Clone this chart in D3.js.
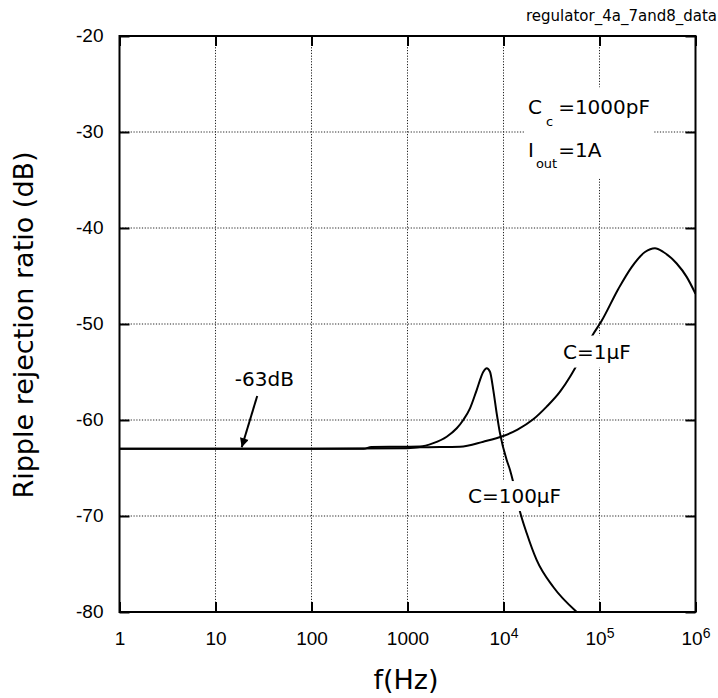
<!DOCTYPE html>
<html>
<head>
<meta charset="utf-8">
<script src="https://d3js.org/d3.v7.min.js"></script>
<style>
  body { margin: 0; background: #fff; }
  svg { font-family: "DejaVu Sans", sans-serif; }
  .grid line { stroke: #222; stroke-width: 1; stroke-dasharray: 1.2,1.6; }
  .axis path { display: none; }
  .axis line { stroke: #000; stroke-width: 2; }
  .axis text { font-size: 19px; fill: #000; }
  .curve { fill: none; stroke: #000; stroke-width: 2; }
</style>
</head>
<body>
<script>
(function(){

//frequency (Hz) and ripple rejection (dB)
var freq100uF = [1, 10, 100, 350, 420, 1000, 1349, 1857, 2560, 3258, 3811, 4478, 5256, 6166, 6683, 7229, 7831, 8492, 9197, 10790, 11695, 12647, 14859, 17458, 22182, 33037, 57943];
var db100uF   = [-63, -63, -63, -63, -62.8, -62.78, -62.76, -62.41, -61.74, -60.86, -60, -58.78, -56.88, -54.97, -54.62, -54.97, -56.88, -59.3, -61.39, -64.17, -65.2, -66.5, -69.55, -71.8, -74.6, -77.4, -80];

var freq1uF = [1, 10, 100, 1000, 1349, 3524, 6166, 9954, 14000, 20420, 28180, 38810, 49320, 55580, 86100, 105400, 157000, 216300, 297800, 378400, 462400, 636800, 809100, 1000000];
var db1uF   = [-63, -63, -63, -62.95, -62.85, -62.78, -62.26, -61.67, -61.0, -59.93, -58.61, -57.05, -55.49, -54.6, -51.04, -49.66, -46.35, -44.07, -42.5, -42.1, -42.5, -43.7, -45.09, -46.85];

//axis ticks and labels
var xTicks = [1, 10, 100, 1000, 1e4, 1e5, 1e6];
var xTickBase = ["1", "10", "100", "1000", "10", "10", "10"];
var xTickExp = ["", "", "", "", "4", "5", "6"];
var yTicks = [-20, -30, -40, -50, -60, -70, -80];

var chartTitle = "regulator_4a_7and8_data";

//chart frame dimensions
var width = 718,
    height = 698,
    margin = {left: 119.5, top: 36, right: 22.5, bottom: 86},
    innerWidth = width - margin.left - margin.right,
    innerHeight = height - margin.top - margin.bottom;

var svg = d3.select("body")
    .append("svg")
    .attr("width", width)
    .attr("height", height);

var x = d3.scaleLog()
    .domain([1, 1e6])
    .range([0, innerWidth]);

var y = d3.scaleLinear()
    .domain([-80, -20])
    .range([innerHeight, 0]);

var g = svg.append("g")
    .attr("transform", "translate(" + margin.left + "," + margin.top + ")");

//dotted grid
var grid = g.append("g").attr("class", "grid");
grid.selectAll(".vgrid")
    .data(xTicks)
    .enter()
    .append("line")
    .attr("x1", function(d){ return x(d); })
    .attr("x2", function(d){ return x(d); })
    .attr("y1", 0)
    .attr("y2", innerHeight);
grid.selectAll(".hgrid")
    .data(yTicks)
    .enter()
    .append("line")
    .attr("x1", 0)
    .attr("x2", innerWidth)
    .attr("y1", function(d){ return y(d); })
    .attr("y2", function(d){ return y(d); });

//curves
var line = d3.line()
    .x(function(d){ return x(d[0]); })
    .y(function(d){ return y(d[1]); })
    .curve(d3.curveMonotoneX);

g.append("clipPath")
    .attr("id", "plotClip")
    .append("rect")
    .attr("width", innerWidth)
    .attr("height", innerHeight);

var curves = g.append("g").attr("clip-path", "url(#plotClip)");
curves.append("path")
    .attr("class", "curve")
    .attr("d", line(d3.zip(freq1uF, db1uF)));
curves.append("path")
    .attr("class", "curve")
    .attr("d", line(d3.zip(freq100uF, db100uF)));

//annotation with a white box behind it
function boxedLabel(parent, fx, fdb, pad){
    var grp = parent.append("g");
    var bg = grp.append("rect").attr("fill", "#fff");
    var t = grp.append("text")
        .attr("x", x(fx))
        .attr("y", y(fdb))
        .attr("font-size", 20);
    return {text: t, fit: function(){
        var b = t.node().getBBox();
        bg.attr("x", b.x - pad)
          .attr("y", b.y - pad)
          .attr("width", b.width + pad * 2)
          .attr("height", b.height + pad * 2);
    }};
}

var lab1 = boxedLabel(g, 41700, -53.6, 4);
lab1.text.text("C=1\u03bcF");
lab1.fit();

var lab100 = boxedLabel(g, 4266, -68.65, 3);
lab100.text.text("C=100\u03bcF");
lab100.fit();

var lab63 = boxedLabel(g, 15.9, -56.46, 2);
lab63.text.text("-63dB");
lab63.fit();

//arrow to the -63 dB level
svg.append("defs").append("marker")
    .attr("id", "arrowHead")
    .attr("viewBox", "0 0 10 10")
    .attr("refX", 10)
    .attr("refY", 5)
    .attr("markerWidth", 5.5)
    .attr("markerHeight", 4.5)
    .attr("markerUnits", "strokeWidth")
    .attr("orient", "auto")
    .append("path")
    .attr("d", "M0,0 L10,5 L0,10 Z")
    .attr("fill", "#000");

g.append("line")
    .attr("x1", x(27.2))
    .attr("y1", y(-57.5))
    .attr("x2", x(18.75))
    .attr("y2", y(-62.84))
    .attr("stroke", "#000")
    .attr("stroke-width", 2)
    .attr("marker-end", "url(#arrowHead)");

//condition box (Cc, Iout)
var cond = g.append("g");
var condBg = cond.append("rect").attr("fill", "#fff");
var cc = cond.append("text")
    .attr("x", x(18000))
    .attr("y", y(-28.16))
    .attr("font-size", 20);
cc.append("tspan").text("C");
cc.append("tspan").attr("font-size", 13).attr("dx", 4).attr("dy", 12).text("c");
cc.append("tspan").attr("dx", 5).attr("dy", -12).text("=1000pF");
var io = cond.append("text")
    .attr("x", x(18000))
    .attr("y", y(-32.57))
    .attr("font-size", 20);
io.append("tspan").text("I");
io.append("tspan").attr("font-size", 13).attr("dx", 2).attr("dy", 11).text("out");
io.append("tspan").attr("dx", 1).attr("dy", -11).text("=1A");
var cb = cond.node().getBBox();
condBg.attr("x", cb.x - 4)
    .attr("y", cb.y - 8)
    .attr("width", cb.width + 8)
    .attr("height", cb.height + 16);

//frame
g.append("rect")
    .attr("width", innerWidth)
    .attr("height", innerHeight)
    .attr("fill", "none")
    .attr("stroke", "#000")
    .attr("stroke-width", 2);

//axes with inward ticks
var xAxis = g.append("g")
    .attr("class", "axis")
    .attr("transform", "translate(0," + innerHeight + ")")
    .call(d3.axisBottom(x).tickValues(xTicks).tickSizeInner(-10).tickSizeOuter(0).tickPadding(20).tickFormat(""));
xAxis.selectAll(".tick text")
    .each(function(d, i){
        var t = d3.select(this);
        t.append("tspan").text(xTickBase[i]);
        if (xTickExp[i]){
            t.append("tspan")
                .attr("font-size", 14)
                .attr("dy", -7)
                .text(xTickExp[i]);
        }
    });

g.append("g")
    .attr("class", "axis")
    .call(d3.axisTop(x).tickValues(xTicks).tickSizeInner(-10).tickSizeOuter(0).tickFormat(""));

g.append("g")
    .attr("class", "axis")
    .call(d3.axisLeft(y).tickValues(yTicks).tickSizeInner(-10).tickSizeOuter(0).tickPadding(16)
        .tickFormat(function(d){ return String(d); }))
    .selectAll("text")
    .attr("dy", "0.28em");

g.append("g")
    .attr("class", "axis")
    .attr("transform", "translate(" + innerWidth + ",0)")
    .call(d3.axisRight(y).tickValues(yTicks).tickSizeInner(-10).tickSizeOuter(0).tickFormat(""));

//axis titles
svg.append("text")
    .attr("x", 406)
    .attr("y", 689)
    .attr("text-anchor", "middle")
    .attr("font-size", 27)
    .text("f(Hz)");

svg.append("text")
    .attr("transform", "translate(33," + 325 + ") rotate(-90)")
    .attr("text-anchor", "middle")
    .attr("font-size", 27)
    .text("Ripple rejection ratio (dB)");

svg.append("text")
    .attr("x", 717)
    .attr("y", 20.5)
    .attr("text-anchor", "end")
    .attr("font-size", 15)
    .text(chartTitle);

})();
</script>
</body>
</html>
